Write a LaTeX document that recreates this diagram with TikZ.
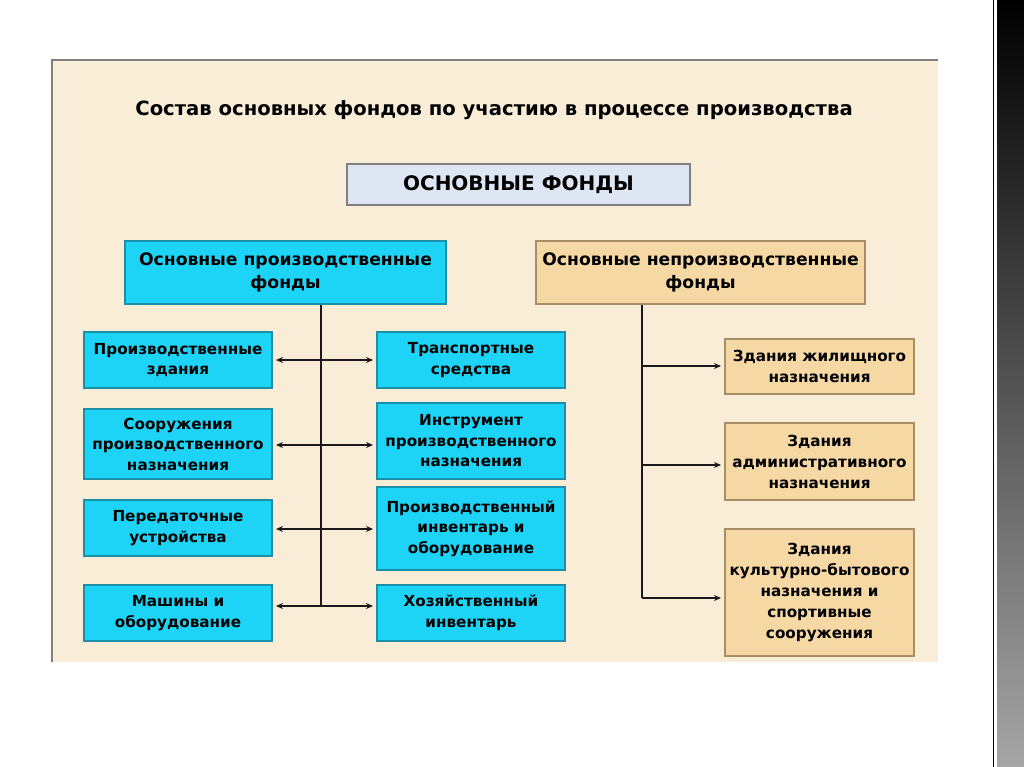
\documentclass[tikz,border=0pt]{standalone}
\usepackage{fontspec}
\setmainfont{DejaVu Sans}
\usetikzlibrary{arrows.meta, calc}
\definecolor{panel}{HTML}{F9EDD7}
\definecolor{cyanbox}{HTML}{1ED4F6}
\definecolor{cyanedge}{HTML}{1B8FA6}
\definecolor{tanbox}{HTML}{F6D8A4}
\definecolor{tanedge}{HTML}{A88E66}
\definecolor{topbox}{HTML}{DDE6F2}
\tikzset{
    pbox/.style={draw=cyanedge, fill=cyanbox, line width=2pt, align=center, inner sep=2pt,
        font=\fontsize{15.2}{20.5}\selectfont\bfseries},
    nbox/.style={draw=tanedge, fill=tanbox, line width=2pt, align=center, inner sep=2pt,
        font=\fontsize{15.2}{21}\selectfont\bfseries},
    head/.style={font=\fontsize{17.2}{23}\selectfont\bfseries},
    link/.style={line width=2.8pt, draw=black!90},
    arr/.style={link, -{Stealth[length=7pt,width=6pt]}, shorten >=3pt}
}

\begin{document}
\begin{tikzpicture}[x=1pt, y=-1pt]
        \useasboundingbox (0,0) rectangle (1024,767);
        \fill[white] (0,0) rectangle (1024,767);
        % background panel
        \fill[panel] (52,60) rectangle (938,662);
        \draw[gray, line width=1.5pt] (52,662) -- (52,60) -- (938,60);
        % dark strip on the right
        \draw[black, line width=1pt] (993,0) -- (993,767);
        \shade[top color=black, bottom color=black!35] (997,0) rectangle (1024,767);

        \node[font=\fontsize{19.6}{23}\selectfont\bfseries] (title) at (494,110)
            {Состав основных фондов по участию в процессе производства};
        \node[draw=gray, fill=topbox, line width=2pt, minimum width=343pt, minimum height=41pt,
            font=\fontsize{20}{23}\selectfont\bfseries] (of) at (518.5,184.5) {ОСНОВНЫЕ ФОНДЫ};

        \node[pbox, head, minimum width=321pt, minimum height=63pt] (opf) at (285.5,272.5)
            {Основные производственные\\фонды};
        \node[nbox, head, minimum width=329pt, minimum height=63pt] (onf) at (700.5,272.5)
            {Основные непроизводственные\\фонды};

        \node[pbox, minimum width=188pt, minimum height=56pt] (l1) at (178,360) {Производственные\\здания};
        \node[pbox, minimum width=188pt, minimum height=70pt] (l2) at (178,444) {Сооружения\\производственного\\назначения};
        \node[pbox, minimum width=188pt, minimum height=56pt] (l3) at (178,528) {Передаточные\\устройства};
        \node[pbox, minimum width=188pt, minimum height=56pt] (l4) at (178,613) {Машины и\\оборудование};

        \node[pbox, minimum width=188pt, minimum height=56pt] (m1) at (471,360) {Транспортные\\средства};
        \node[pbox, minimum width=188pt, minimum height=76pt] (m2) at (471,441) {Инструмент\\производственного\\назначения};
        \node[pbox, minimum width=188pt, minimum height=83pt] (m3) at (471,528.5) {Производственный\\инвентарь и\\оборудование};
        \node[pbox, minimum width=188pt, minimum height=56pt] (m4) at (471,613) {Хозяйственный\\инвентарь};

        \node[nbox, minimum width=189pt, minimum height=55pt] (r1) at (819.5,366.5) {Здания жилищного\\назначения};
        \node[nbox, minimum width=189pt, minimum height=77pt] (r2) at (819.5,461.5) {Здания\\административного\\назначения};
        \node[nbox, minimum width=189pt, minimum height=127pt] (r3) at (819.5,592.5) {Здания\\культурно-бытового\\назначения и\\спортивные\\сооружения};

        % junctions on the trunks
        \coordinate (j1) at (321,360);
        \coordinate (j2) at (321,445);
        \coordinate (j3) at (321,529);
        \coordinate (j4) at (321,606);
        \coordinate (k1) at (642,366);
        \coordinate (k2) at (642,465);
        \coordinate (k3) at (642,598);

        \draw[link] (opf.south -| j1) -- (j4);
        \draw[link] (onf.south -| k1) -- (k3);
        \foreach \j/\a/\b in {j1/l1/m1, j2/l2/m2, j3/l3/m3, j4/l4/m4} {
            \draw[arr] (\j) -- (\j -| \a.east);
            \draw[arr] (\j) -- (\j -| \b.west);
        }
        \foreach \k/\c in {k1/r1, k2/r2, k3/r3}
            \draw[arr] (\k) -- (\k -| \c.west);
    \end{tikzpicture}
\end{document}
